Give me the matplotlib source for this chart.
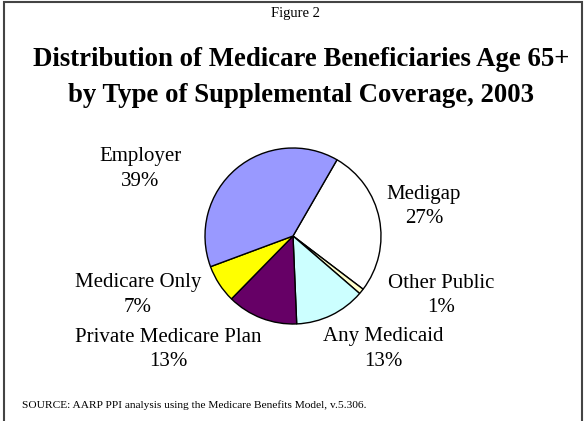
import matplotlib
matplotlib.use("Agg")
import matplotlib.pyplot as plt
from matplotlib.patches import Rectangle

# data
labels = ["Medigap", "Other Public", "Any Medicaid", "Private Medicare Plan", "Medicare Only", "Employer"]
shares = [27, 1, 13, 13, 7, 39]
colors = ["#FFFFFF", "#FFFFCC", "#CCFFFF", "#660066", "#FFFF00", "#9999FF"]

# label placement in pixels (x, y of first line)
LABEL_POS = {
    "Medigap": (424, 195),
    "Other Public": (441, 283),
    "Any Medicaid": (383, 337),
    "Private Medicare Plan": (168, 337),
    "Medicare Only": (138, 283),
    "Employer": (140, 157),
}

W, H = 586, 421
SERIF = "Liberation Serif"

fig = plt.figure(figsize=(W / 100, H / 100), dpi=100)
fig.patch.set_facecolor("white")

# frame round the slide
fig.patches.append(Rectangle((4 / W, -0.05), 578 / W, 1 - 2 / H + 0.05,
                             transform=fig.transFigure, fill=False,
                             edgecolor="#444444", linewidth=1.5))

fig.text(295 / W, 1 - 13 / H, "Figure 2", ha="center", va="center",
         family=SERIF, fontsize=10.5)
fig.text(301 / W, 1 - 60 / H, "Distribution of Medicare Beneficiaries Age 65+",
         ha="center", va="center", family=SERIF, fontsize=19.3, fontweight="bold")
fig.text(301 / W, 1 - 96 / H, "by Type of Supplemental Coverage, 2003",
         ha="center", va="center", family=SERIF, fontsize=19.3, fontweight="bold")

# pie
cx, cy, r = 293, 236, 88
ax = fig.add_axes([(cx - r) / W, (H - cy - r) / H, 2 * r / W, 2 * r / H])
ax.pie(shares, colors=colors, startangle=60, counterclock=False,
       wedgeprops={"edgecolor": "black", "linewidth": 1.0})
ax.set_xlim(-1, 1)
ax.set_ylim(-1, 1)
ax.set_aspect("equal")
ax.axis("off")

for name, val in zip(labels, shares):
    x, y = LABEL_POS[name]
    fig.text(x / W, 1 - y / H, name, ha="center", va="center",
             family=SERIF, fontsize=15)
    fig.text(x / W, 1 - (y + 24) / H, f"{val}%", ha="center", va="center",
             family=SERIF, fontsize=15)

fig.text(22 / W, 1 - 405 / H,
         "SOURCE: AARP PPI analysis using the Medicare Benefits Model, v.5.306.",
         ha="left", va="center", family=SERIF, fontsize=8.2)

fig.savefig("out.png", dpi=100)
